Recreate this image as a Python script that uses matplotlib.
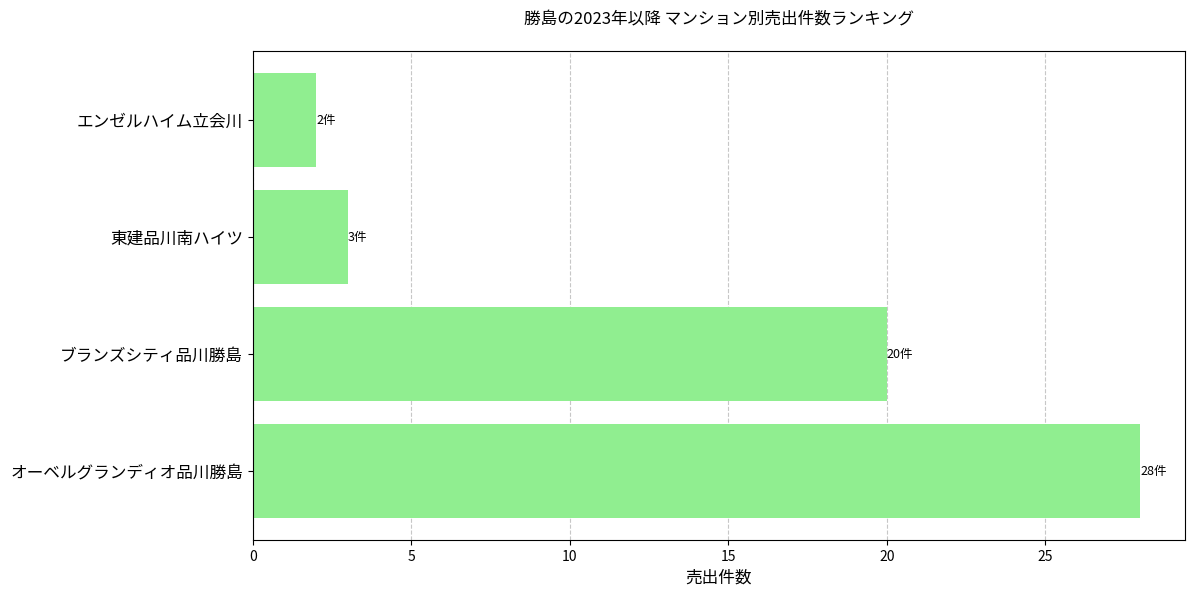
import matplotlib
matplotlib.use("Agg")
import matplotlib.pyplot as plt

plt.rcParams['font.family'] = ['Noto Sans CJK JP', 'DejaVu Sans']

# data, bottom to top
names = ['オーベルグランディオ品川勝島', 'ブランズシティ品川勝島', '東建品川南ハイツ', 'エンゼルハイム立会川']
counts = [28, 20, 3, 2]

fig, ax = plt.subplots(figsize=(11.93, 5.93), dpi=100)
bars = ax.barh(names, counts, color='lightgreen')
for b, c in zip(bars, counts):
    ax.text(b.get_width(), b.get_y() + b.get_height() / 2, f'{c}件',
            va='center', ha='left', fontsize=9)

ax.set_xlabel('売出件数', fontsize=12)
ax.set_title('勝島の2023年以降 マンション別売出件数ランキング', fontsize=12, pad=20)
ax.tick_params(axis='y', labelsize=12)
ax.xaxis.grid(True, linestyle='--', alpha=0.7)
ax.set_axisbelow(True)
plt.subplots_adjust(left=0.212, right=0.993, top=0.914, bottom=0.089)
plt.savefig('out.png')
